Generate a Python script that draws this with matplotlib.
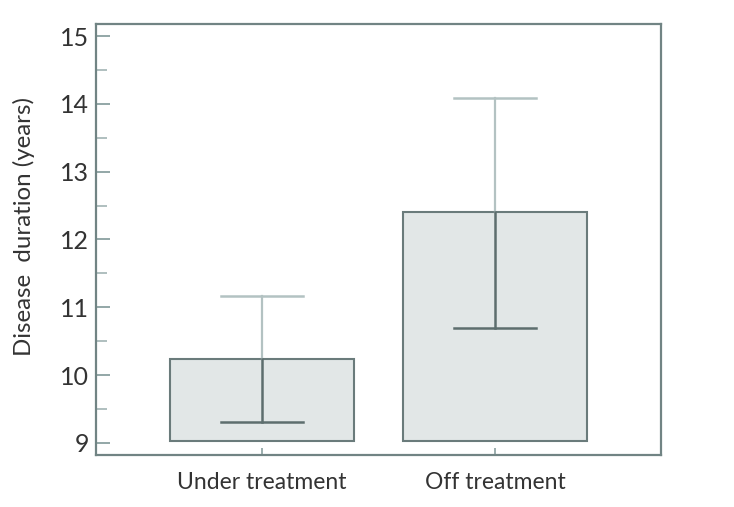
import numpy as np
import matplotlib
matplotlib.use("Agg")
import matplotlib.pyplot as plt
from matplotlib.ticker import MultipleLocator

# data
groups = ["Under treatment", "Off treatment"]
means = [10.24, 12.40]
upper = [11.17, 14.09]
lower = [9.31, 10.70]
base = 9.02

plt.rcParams['font.family'] = ['Lato', 'DejaVu Sans']

fig = plt.figure(figsize=(7.34, 5.07), dpi=100)
ax = fig.add_axes([0.1308, 0.1026, 0.7697, 0.8501])

spine_col = "#718484"
bar_edge = "#6a7b7b"
bar_fill = "#e2e7e7"
txt_col = "#333333"

x = np.arange(len(groups))
heights = [m - base for m in means]
ax.bar(x, heights, bottom=base, width=0.79, color=bar_fill,
       edgecolor=bar_edge, linewidth=1.5, zorder=2)

# upper whisker (light) and lower whisker (dark)
for xi, m, u, l in zip(x, means, upper, lower):
    ax.plot([xi, xi], [m, u], color="#b3c2c2", lw=1.6, zorder=3)
    ax.plot([xi - 0.175, xi + 0.175], [u, u], color="#b3c2c2", lw=1.8, zorder=3)
    ax.plot([xi, xi], [l, m], color="#5d6e6e", lw=1.8, zorder=3)
    ax.plot([xi - 0.175, xi + 0.175], [l, l], color="#5d6e6e", lw=1.8, zorder=3)

ax.set_xlim(-0.712, 1.712)
ax.set_ylim(8.82, 15.18)

ax.yaxis.set_major_locator(MultipleLocator(1))
ax.yaxis.set_minor_locator(MultipleLocator(0.5))
ax.tick_params(axis='y', which='major', direction='in', length=10, width=1.3,
               color="#8aa0a0", labelsize=18, labelcolor=txt_col, pad=5)
ax.tick_params(axis='y', which='minor', direction='in', length=8, width=1.3,
               color="#a9baba")
ax.set_xticks(x)
ax.set_xticklabels(groups)
ax.tick_params(axis='x', direction='in', length=5, width=1.2, color="#8aa0a0",
               labelsize=16.5, labelcolor=txt_col, pad=12)

for s in ax.spines.values():
    s.set_color(spine_col)
    s.set_linewidth(1.6)

ax.set_ylabel("Disease  duration (years)", fontsize=17.3, color=txt_col)
ax.yaxis.set_label_coords(-0.108, 0.529)

fig.savefig("out.png", dpi=100)
